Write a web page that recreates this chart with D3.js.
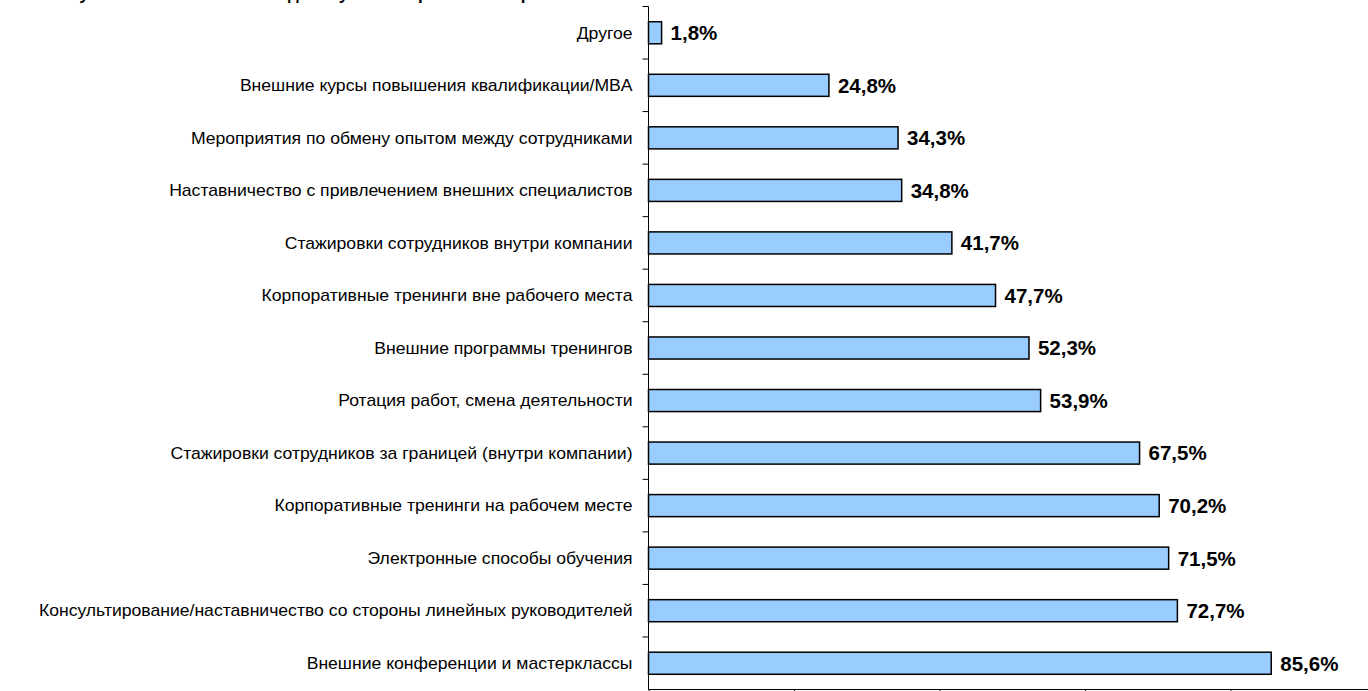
<!DOCTYPE html>
<html>
<head>
<meta charset="utf-8">
<script src="https://cdn.jsdelivr.net/npm/d3@7"></script>
<style>
  html, body { margin: 0; padding: 0; background: #fff; overflow: hidden; }
  svg { display: block; }
</style>
</head>
<body>
<svg id="chart" width="1368" height="691"></svg>
<script>
// Methods of staff development, share of companies using each (%)
const categories = [
  "Другое",
  "Внешние курсы повышения квалификации/MBA",
  "Мероприятия по обмену опытом между сотрудниками",
  "Наставничество с привлечением внешних специалистов",
  "Стажировки сотрудников внутри компании",
  "Корпоративные тренинги вне рабочего места",
  "Внешние программы тренингов",
  "Ротация работ, смена деятельности",
  "Стажировки сотрудников за границей (внутри компании)",
  "Корпоративные тренинги на рабочем месте",
  "Электронные способы обучения",
  "Консультирование/наставничество со стороны линейных руководителей",
  "Внешние конференции и мастерклассы"
];
const values = [1.8, 24.8, 34.3, 34.8, 41.7, 47.7, 52.3, 53.9, 67.5, 70.2, 71.5, 72.7, 85.6];
const xTicks = [0, 20, 40, 60, 80, 100];
const titleText = "Используемые компаниями методы обучения и развития персонала";

const svg = d3.select("#chart");
const font = "'Liberation Sans', Arial, sans-serif";

const x0 = 648.5, yTop = 6.5, yBottom = 689.5;

const x = d3.scaleLinear().domain([0, 100]).range([x0, x0 + 727.5]);
const y = d3.scaleBand().domain(categories).range([yTop, yBottom]).paddingInner(0.58).paddingOuter(0.29);

// Title (runs off the top edge of the page)
svg.append("text")
  .attr("x", 8).attr("y", -0.5)
  .attr("font-family", font).attr("font-size", 17).attr("font-weight", "bold")
  .attr("fill", "#000")
  .text(titleText);

// Bars
svg.append("g").selectAll("rect")
  .data(values)
  .join("rect")
  .attr("x", x(0))
  .attr("y", (d, i) => y(categories[i]))
  .attr("width", d => x(d) - x(0))
  .attr("height", y.bandwidth())
  .attr("fill", "#99ccff")
  .attr("stroke", "#000")
  .attr("stroke-width", 1.5);

// Value labels
svg.append("g").selectAll("text")
  .data(values)
  .join("text")
  .attr("x", d => x(d) + 9)
  .attr("y", (d, i) => y(categories[i]) + y.bandwidth() / 2)
  .attr("dy", "0.36em")
  .attr("font-family", font).attr("font-size", 20.5).attr("font-weight", "bold")
  .attr("fill", "#000")
  .text(d => d.toFixed(1).replace(".", ",") + "%");

// Category axis: line, boundary ticks, labels
const gy = svg.append("g");
gy.append("line")
  .attr("x1", x0).attr("x2", x0)
  .attr("y1", yTop).attr("y2", yBottom)
  .attr("stroke", "#000").attr("stroke-width", 1);
const step = (yBottom - yTop) / categories.length;
const boundaries = d3.range(categories.length).map(i => yTop + i * step);
gy.selectAll("line.tick")
  .data(boundaries)
  .join("line")
  .attr("class", "tick")
  .attr("x1", x0 - 6).attr("x2", x0)
  .attr("y1", d => d).attr("y2", d => d)
  .attr("stroke", "#000").attr("stroke-width", 1);
// labels are slightly widened horizontally
gy.selectAll("text")
  .data(categories)
  .join("text")
  .attr("transform", d => `translate(${x0 - 16},${y(d) + y.bandwidth() / 2}) scale(1.1,1)`)
  .attr("dy", "0.36em")
  .attr("text-anchor", "end")
  .attr("font-family", font).attr("font-size", 16)
  .attr("fill", "#000")
  .text(d => d);

// Value axis at the bottom
const gx = svg.append("g").attr("transform", `translate(0,${yBottom})`);
gx.call(d3.axisBottom(x).tickValues(xTicks).tickSize(7).tickFormat(""));
gx.select(".domain").attr("d", `M${x(0)},0H${x(100)}`).attr("stroke", "#000");
gx.selectAll(".tick line").attr("stroke", "#000");
</script>
</body>
</html>
